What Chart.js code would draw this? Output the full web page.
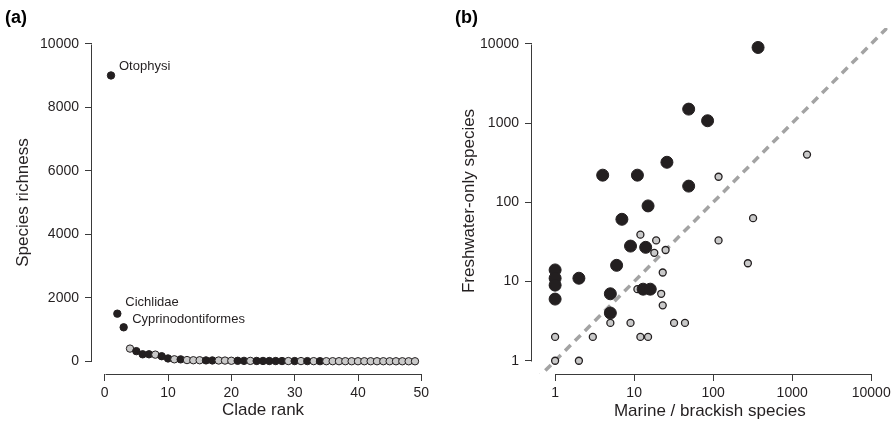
<!DOCTYPE html>
<html><head><meta charset="utf-8">
<script src="https://cdn.jsdelivr.net/npm/chart.js@4.4.1/dist/chart.umd.min.js"></script>
<style>
html,body{margin:0;padding:0;background:#fff;}
#wrap{position:relative;width:895px;height:432px;overflow:hidden;background:#fff;}
canvas{position:absolute;top:0;}
</style></head><body>
<div id="wrap">
<canvas id="ca" width="447" height="432" style="left:0px"></canvas>
<canvas id="cb" width="448" height="432" style="left:447px"></canvas>
</div>
<script>
// ---------- Panel (a): species richness by clade rank ----------
const cladeRank = Array.from({length: 49}, (_, i) => i + 1);
const richness = [9000,1500,1070,400,320,220,220,210,160,90,
                  63,61,39,33,33,28,27,25,23,17,
                  16,14,13,11,11,9,8,8,8,7,
                  7,6,5,4,3,3,3,3,2,2,
                  2,2,2,2,1,1,1,1,1];
// B = black points, G = grey points
const richnessGroup = ['B','B','B','G','B','B','B','G','B','B',
                       'G','B','G','G','G','B','B','G','G','G',
                       'B','B','G','B','B','B','B','B','G','B',
                       'G','B','G','B','G','G','G','G','G','G',
                       'G','G','G','G','G','G','G','G','G'];
const cladeLabels = {0: 'Otophysi', 1: 'Cichlidae', 2: 'Cyprinodontiformes'};
const xTicksA = [0, 10, 20, 30, 40, 50];
const yTicksA = [0, 2000, 4000, 6000, 8000, 10000];

// ---------- Panel (b): freshwater-only vs marine/brackish species ----------
const blackMarine = [370, 49, 85, 26, 4, 11, 49, 15, 7, 9, 14, 6, 1, 2, 1, 1, 13, 16, 5, 1, 5];
const blackFresh  = [9000,1500,1070,320,220,220,160,90,61,28,27,16,14,11,11,9,8,8,7,6,4];
const greyMarine  = [1540,117,320,12,19,117,25,18,275,23,11,22,23,5,9,32,44,1,3,12,15,1,2];
const greyFresh   = [400,210,63,39,33,33,25,23,17,13,8,7,5,3,3,3,3,2,2,2,2,1,1];
const logTicks = [1, 10, 100, 1000, 10000];
const oneToOne = [0.1, 100000];

const ink = '#231f20';
const greyFill = '#c9c9c9';
const axisCol = '#3a3a3a';
const FONT = "'Liberation Sans', Arial, Helvetica, sans-serif";

const rAxesPlugin = {
  id: 'rAxes',
  afterDraw(chart) {
    const ctx = chart.ctx, a = chart.chartArea;
    const xs = chart.scales.x, ys = chart.scales.y;
    const xt = xs.ticks, yt = ys.ticks;
    ctx.save();
    ctx.strokeStyle = axisCol; ctx.lineWidth = 1;
    ctx.beginPath();
    const yb = Math.round(a.bottom) + 0.5;
    ctx.moveTo(Math.round(xs.getPixelForValue(xt[0].value)) + 0.5, yb);
    ctx.lineTo(Math.round(xs.getPixelForValue(xt[xt.length - 1].value)) + 0.5, yb);
    const xl = Math.round(a.left) - 0.5;
    ctx.moveTo(xl, Math.round(ys.getPixelForValue(yt[0].value)) + 0.5);
    ctx.lineTo(xl, Math.round(ys.getPixelForValue(yt[yt.length - 1].value)) + 0.5);
    ctx.stroke();
    const o = chart.options.plugins.rAxes;
    ctx.fillStyle = '#000';
    ctx.font = 'bold 18px ' + FONT;
    ctx.textBaseline = 'alphabetic';
    ctx.textAlign = 'left';
    ctx.fillText(o.letter, o.letterX, 23);
    ctx.restore();
  }
};

const annotPlugin = {
  id: 'cladeAnnot',
  afterDatasetsDraw(chart) {
    const meta = chart.getDatasetMeta(0);
    const ctx = chart.ctx;
    ctx.save();
    ctx.fillStyle = ink;
    ctx.font = '13px ' + FONT;
    ctx.textAlign = 'left';
    ctx.textBaseline = 'middle';
    const offs = {0: [8, -9], 1: [8, -11], 2: [8.5, -8]};
    Object.keys(cladeLabels).forEach(k => {
      const p = meta.data[+k];
      ctx.fillText(cladeLabels[k], p.x + offs[k][0], p.y + offs[k][1]);
    });
    ctx.restore();
  }
};

function fixedTicks(list) {
  return function(scale) { scale.ticks = list.map(v => ({value: v})); };
}

const tickFont = {family: FONT, size: 14};
const titleFont = {family: FONT, size: 17};

// Panel (a)
new Chart(document.getElementById('ca'), {
  type: 'scatter',
  data: {
    datasets: [{
      data: cladeRank.map((r, i) => ({x: r, y: richness[i]})),
      backgroundColor: richnessGroup.map(g => g === 'B' ? ink : greyFill),
      borderColor: ink,
      borderWidth: 1,
      pointRadius: 3.7,
      pointHoverRadius: 3.7
    }]
  },
  options: {
    responsive: false,
    animation: false,
    events: [],
    layout: {padding: {left: 0, top: 31, right: 13, bottom: 0}},
    plugins: {legend: {display: false}, tooltip: {enabled: false},
              rAxes: {letter: '(a)', letterX: 5}},
    scales: {
      x: {
        type: 'linear', min: -2, max: 52,
        afterBuildTicks: fixedTicks(xTicksA),
        afterFit: s => { s.height = 58; },
        border: {display: false},
        grid: {display: true, drawOnChartArea: false, drawTicks: true, tickLength: 7, color: axisCol},
        ticks: {font: tickFont, color: ink, padding: 4, maxRotation: 0, callback: v => String(v)},
        title: {display: true, text: 'Clade rank', font: titleFont, color: ink, padding: {top: 0, bottom: 11}}
      },
      y: {
        type: 'linear', min: -400, max: 10400,
        afterBuildTicks: fixedTicks(yTicksA),
        afterFit: s => { s.width = 92; },
        border: {display: false},
        grid: {display: true, drawOnChartArea: false, drawTicks: true, tickLength: 7, color: axisCol},
        ticks: {font: tickFont, color: ink, padding: 6, callback: v => String(v)},
        title: {display: true, text: 'Species richness', font: titleFont, color: ink, padding: {top: 13, bottom: 0}}
      }
    }
  },
  plugins: [rAxesPlugin, annotPlugin]
});

// Panel (b)
new Chart(document.getElementById('cb'), {
  type: 'scatter',
  data: {
    datasets: [
      {
        data: blackMarine.map((m, i) => ({x: m, y: blackFresh[i]})),
        backgroundColor: ink, borderColor: ink, borderWidth: 1,
        pointRadius: 6, pointHoverRadius: 6, order: 1
      },
      {
        data: greyMarine.map((m, i) => ({x: m, y: greyFresh[i]})),
        backgroundColor: greyFill, borderColor: ink, borderWidth: 1.3,
        pointRadius: 3.5, pointHoverRadius: 3.5, order: 2
      },
      {
        data: oneToOne.map(v => ({x: v, y: v})),
        showLine: true, pointRadius: 0, borderColor: '#a3a3a3', borderWidth: 3.5,
        borderDash: [8, 6], clip: 0, order: 3
      }
    ]
  },
  options: {
    responsive: false,
    animation: false,
    events: [],
    layout: {padding: {left: 0, top: 28, right: 7, bottom: 0}},
    plugins: {legend: {display: false}, tooltip: {enabled: false},
              rAxes: {letter: '(b)', letterX: 8}},
    scales: {
      x: {
        type: 'logarithmic', min: 0.51, max: 16100,
        afterBuildTicks: fixedTicks(logTicks),
        afterFit: s => { s.height = 58; },
        border: {display: false},
        grid: {display: true, drawOnChartArea: false, drawTicks: true, tickLength: 7, color: axisCol},
        ticks: {font: tickFont, color: ink, padding: 4, maxRotation: 0, autoSkip: false, callback: v => String(v)},
        title: {display: true, text: 'Marine / brackish species', font: titleFont, color: ink, padding: {top: 0, bottom: 10}}
      },
      y: {
        type: 'logarithmic', min: 0.68, max: 15850,
        afterBuildTicks: fixedTicks(logTicks),
        afterFit: s => { s.width = 85; },
        border: {display: false},
        grid: {display: true, drawOnChartArea: false, drawTicks: true, tickLength: 7, color: axisCol},
        ticks: {font: tickFont, color: ink, padding: 6, autoSkip: false, callback: v => String(v)},
        title: {display: true, text: 'Freshwater-only species', font: titleFont, color: ink, padding: {top: 12, bottom: 0}}
      }
    }
  },
  plugins: [rAxesPlugin]
});
</script>
</body></html>
